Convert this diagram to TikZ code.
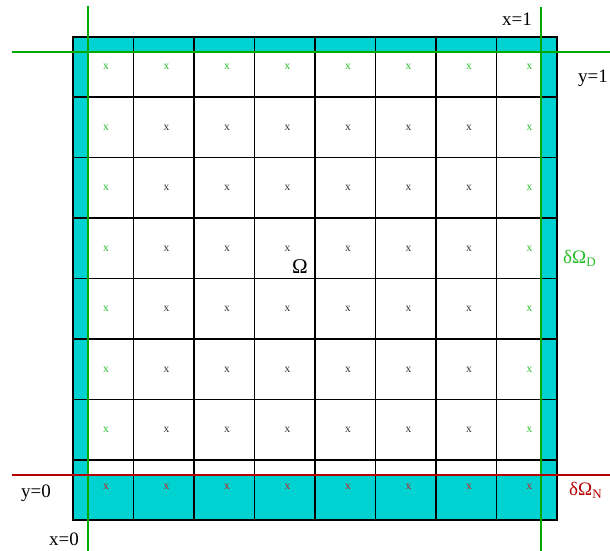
\documentclass[tikz,border=0pt]{standalone}
\usepackage{fontspec}
\setmainfont{Liberation Serif}
\definecolor{cyanfill}{RGB}{0,209,209}
\definecolor{gline}{RGB}{0,170,0}
\definecolor{gtext}{RGB}{40,190,40}
\definecolor{rline}{RGB}{180,0,0}
\definecolor{rtext}{RGB}{200,30,30}
\definecolor{ktext}{RGB}{50,50,50}
\tikzset{
  gridline/.style={draw=black, line width=1.3pt},
  outerbox/.style={draw=black, line width=2pt},
  bdryD/.style={draw=gline, line width=2pt},
  bdryN/.style={draw=rline, line width=2pt},
  cellmark/.style={font=\fontsize{11.5}{11.5}\selectfont, inner sep=0pt},
  lbl/.style={font=\fontsize{19}{19}\selectfont, inner sep=0pt, anchor=base west},
}
\begin{document}
\begin{tikzpicture}[x=1pt,y=-1pt]
\useasboundingbox (0,0) rectangle (610,551);
% ghost-cell fills
\fill[cyanfill] (73,37) rectangle (88,520);
\fill[cyanfill] (541,37) rectangle (557,520);
\fill[cyanfill] (73,37) rectangle (557,52);
\fill[cyanfill] (73,475) rectangle (557,520);
% grid
\foreach \k in {1,...,7} {
  \draw[gridline] ({73+60.5*\k},37) -- ({73+60.5*\k},520);
}
\foreach \j in {0,...,6} {
  \draw[gridline] (73,{97+60.5*\j}) -- (557,{97+60.5*\j});
}
\draw[gridline] (73,52) -- (557,52);
\draw[gridline] (73,475) -- (557,475);
\draw[outerbox] (73,37) rectangle (557,520);
% boundary lines
\coordinate (gL1) at (88,6);   \coordinate (gL2) at (88,551);
\coordinate (gR1) at (541,7);  \coordinate (gR2) at (541,551);
\coordinate (gT1) at (12,52);  \coordinate (gT2) at (610,52);
\coordinate (rB1) at (12,475); \coordinate (rB2) at (610,475);
\draw[bdryD] (gL1) -- (gL2);
\draw[bdryD] (gR1) -- (gR2);
\draw[bdryD] (gT1) -- (gT2);
\draw[bdryN] (rB1) -- (rB2);
% cell-centre markers
\foreach \i in {0,...,7} {
  \node[cellmark, text=gtext] (mt\i) at ({106+60.5*\i},67) {x};
  \node[cellmark, text=rtext] (mb\i) at ({106+60.5*\i},487) {x};
}
\foreach \j in {1,...,6} {
  \node[cellmark, text=gtext] (ml\j) at (106,{67+60.5*\j}) {x};
  \node[cellmark, text=gtext] (mr\j) at (529.5,{67+60.5*\j}) {x};
  \foreach \i in {1,...,6} {
    \node[cellmark, text=ktext] (m\i-\j) at ({106+60.5*\i},{67+60.5*\j}) {x};
  }
}
% labels
\node[lbl] (x1) at (502,26) {x=1};
\node[lbl] (y1) at (578,82) {y=1};
\node[lbl] (y0) at (21,497) {y=0};
\node[lbl] (x0) at (49,545) {x=0};
\node[lbl, font=\fontsize{21}{21}\selectfont] (om) at (292,273) {Ω};
\node[lbl, text=gtext] (dOD) at (563,263) {δΩ\raisebox{-0.45ex}{\fontsize{13}{13}\selectfont D}};
\node[lbl, text=rline] (dON) at (569,495) {δΩ\raisebox{-0.45ex}{\fontsize{13}{13}\selectfont N}};
\end{tikzpicture}
\end{document}
